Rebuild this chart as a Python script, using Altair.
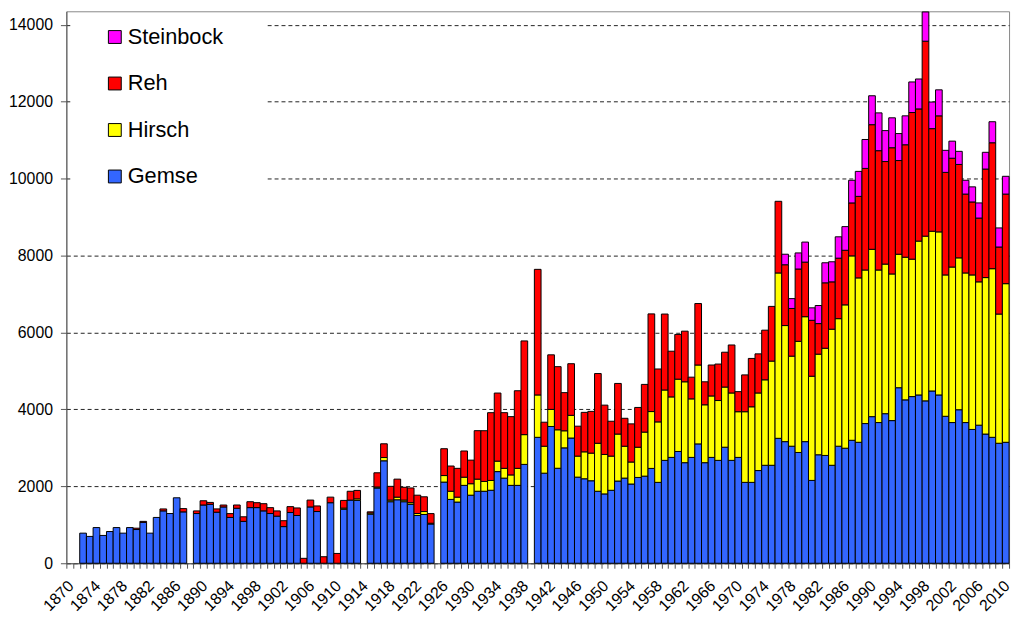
import altair as alt
import pandas as pd

# ---- categories ----
AXIS_YEARS = list(range(1870, 2011))
MISSING_YEARS = [1888, 1914, 1925, 1939]
YEARS = [y for y in range(1872, 2011) if y not in MISSING_YEARS]

SPECIES = ["Gemse", "Hirsch", "Reh", "Steinbock"]
LEGEND_ORDER = ["Steinbock", "Reh", "Hirsch", "Gemse"]
LEGEND_COLORS = ["#FF00FF", "#FF0000", "#FFFF00", "#3366FF"]

# ---- series values (one entry per year in YEARS) ----
GEMSE = [
    783, 698, 928, 723, 825, 928, 783, 928, 877, 1064, 783, 1191, 1362, 1293, 1702, 1336,          # 1872-1887
    1293, 1515, 1532, 1328, 1464, 1191, 1430, 1089, 1447, 1447, 1362, 1293, 1225, 953, 1319, 1242,  # 1889-1904
    0, 1464, 1345, 0, 1574, 0, 1404, 1642, 1634,                                                  # 1905-1913
    1277, 1957, 2664, 1600, 1651, 1600, 1532, 1242, 1268, 1021,                                   # 1915-1924
    2110, 1660, 1591, 2025, 1770, 1872, 1872, 1898, 2383, 2213, 2025, 2025, 2570,                 # 1926-1938
    3274, 2342, 3556, 2470, 3000, 3256, 2239, 2197, 2145, 1872,                                   # 1940s
    1803, 1897, 2137, 2214, 2060, 2231, 2265, 2466, 2103, 2675,                                   # 1950s
    2752, 2906, 2615, 2752, 3103, 2615, 2752, 2675, 3017, 2675,                                   # 1960s
    2752, 2103, 2103, 2410, 2547, 2547, 3248, 3162, 3043, 2880,                                   # 1970s
    3162, 2154, 2821, 2803, 2547, 3043, 2991, 3197, 3145, 3632,                                   # 1980s
    3812, 3658, 3889, 3709, 4564, 4248, 4333, 4376, 4222, 4479,                                   # 1990s
    4376, 3821, 3658, 3991, 3658, 3479, 3590, 3359, 3274, 3120, 3145,                             # 2000-2010
]
HIRSCH = [
    0, 0, 0, 0, 0, 0, 0, 0, 0, 0, 0, 0, 0, 0, 0, 0,
    0, 0, 0, 0, 0, 0, 0, 0, 0, 0, 0, 0, 0, 0, 0, 0,
    0, 0, 0, 0, 0, 0, 30, 0, 40,
    30, 25, 85, 43, 68, 43, 43, 51, 77, 20,
    170, 213, 128, 213, 298, 315, 255, 255, 272, 255, 272, 443, 774,
    1102, 701, 444, 1000, 444, 590, 547, 700, 718, 1248,
    1026, 889, 1222, 829, 572, 786, 1145, 1478, 1572, 1829,
    1573, 1880, 2103, 1522, 2051, 1505, 1598, 1556, 1564, 1752,
    1188, 1837, 1965, 2017, 2222, 2709, 4299, 3018, 2342, 2890,
    3248, 2709, 2615, 2787, 3538, 3316, 3727, 4794, 4274, 3992,
    4350, 3966, 3889, 3812, 3470, 3709, 3573, 4000, 4282, 4153,
    4239, 3675, 4043, 3949, 3889, 4017, 3726, 4068, 4384, 3359, 4124,
]
REH = [
    0, 0, 0, 0, 0, 0, 0, 0, 35, 25, 0, 0, 50, 0, 0, 85,
    68, 110, 50, 85, 50, 100, 85, 119, 153, 128, 187, 153, 136, 153, 153, 196,
    128, 179, 145, 170, 145, 255, 200, 230, 220,
    30, 370, 357, 357, 468, 332, 383, 477, 383, 250,
    698, 655, 749, 681, 613, 1260, 1319, 1762, 1770, 1447, 1515, 2017, 2436,
    3265, 624, 1419, 1641, 992, 1342, 778, 1026, 1086, 1812,
    1282, 906, 1316, 726, 992, 1034, 1240, 2539, 1376, 1975,
    1188, 1163, 1316, 564, 1598, 598, 804, 948, 906, 1248,
    522, 957, 1257, 1017, 1291, 1422, 1863, 1581, 1239, 1880,
    1419, 1453, 795, 1701, 1231, 1573, 1419, 1377, 2119, 2641,
    3240, 3102, 2666, 3282, 2436, 2923, 3812, 3436, 5069, 2667,
    3017, 2666, 2829, 2428, 2051, 1897, 1658, 2821, 3274, 1743, 2329,
]
STEINBOCK = [
    0, 0, 0, 0, 0, 0, 0, 0, 0, 0, 0, 0, 0, 0, 0, 0,
    0, 0, 0, 0, 0, 0, 0, 0, 0, 0, 0, 0, 0, 0, 0, 0,
    0, 0, 0, 0, 0, 0, 0, 0, 0,
    0, 0, 0, 0, 0, 0, 0, 0, 0, 0,
    0, 0, 0, 0, 0, 0, 0, 0, 0, 0, 0, 0, 0,
    0, 0, 0, 0, 0, 0, 0, 0, 0, 0,
    0, 0, 0, 0, 0, 0, 0, 0, 0, 0,
    0, 0, 0, 0, 0, 0, 0, 0, 0, 0,
    0, 0, 0, 0, 0, 0, 0, 273, 256, 418,
    521, 325, 470, 521, 522, 555, 615, 589, 650, 752,
    752, 983, 804, 778, 701, 752, 795, 778, 760, 692,
    676, 573, 444, 341, 359, 393, 394, 436, 547, 496, 462,
]

Y_TICKS = [0, 2000, 4000, 6000, 8000, 10000, 12000, 14000]

rows = []
for i, yr in enumerate(YEARS):
    for k, (name, series) in enumerate(zip(SPECIES, [GEMSE, HIRSCH, REH, STEINBOCK])):
        v = series[i]
        if v > 0:
            rows.append({"Jahr": yr, "Art": name, "Anzahl": v, "ord": k})
df = pd.DataFrame(rows)

FONT = "Liberation Sans"
# non-breaking spaces closed by a zero-width space so the padding is not trimmed
LABEL_PAD = "\u00a0" * 5 + "\u200b"

chart = alt.Chart(df).mark_bar(stroke="black", strokeWidth=1).encode(
    x=alt.X(
        "Jahr:O",
        scale=alt.Scale(domain=AXIS_YEARS, paddingInner=0, paddingOuter=0),
        axis=alt.Axis(
            title=None,
            labelAngle=315,
            labelAlign="right",
            labelBaseline="middle",
            labelFontSize=16,
            labelFont=FONT,
            labelColor="black",
            labelExpr="datum.value % 4 == 2 ? datum.label : ''",
            labelOverlap=False,
            labelPadding=15,
            labelOffset=1,
            tickBand="extent",
            tickSize=5,
            tickColor="#555555",
            domainColor="#555555",
            grid=False,
        ),
    ),
    y=alt.Y(
        "Anzahl:Q",
        stack="zero",
        scale=alt.Scale(domain=[0, 14350], nice=False),
        axis=alt.Axis(
            title=None,
            values=Y_TICKS,
            format="d",
            labelFontSize=16,
            labelFont=FONT,
            labelColor="black",
            labelPadding=8,
            tickSize=6,
            tickColor="#555555",
            domainColor="#555555",
            grid=True,
            gridColor="#222222",
            gridDash=[4, 3],
            gridWidth=1,
        ),
    ),
    color=alt.Color(
        "Art:N",
        scale=alt.Scale(domain=LEGEND_ORDER, range=LEGEND_COLORS),
        legend=alt.Legend(
            title=None,
            orient="none",
            legendX=4,
            legendY=2,
            symbolType="square",
            symbolSize=169,
            symbolStrokeColor="black",
            symbolStrokeWidth=1,
            symbolOpacity=1,
            symbolOffset=21,
            labelFontSize=22,
            labelFont=FONT,
            labelColor="black",
            labelOffset=2,
            labelExpr="datum.label + '" + LABEL_PAD + "'",
            rowPadding=25,
            fillColor="white",
            padding=13,
        ),
    ),
    order=alt.Order("ord:Q", sort="ascending"),
).properties(
    width=953,
    height=558,
    padding={"left": 0, "top": 0, "right": 2, "bottom": 0},
).configure_view(
    stroke="#888888",
    strokeWidth=1,
)

chart.save("out.html", embed_options={"renderer": "svg", "actions": False})
